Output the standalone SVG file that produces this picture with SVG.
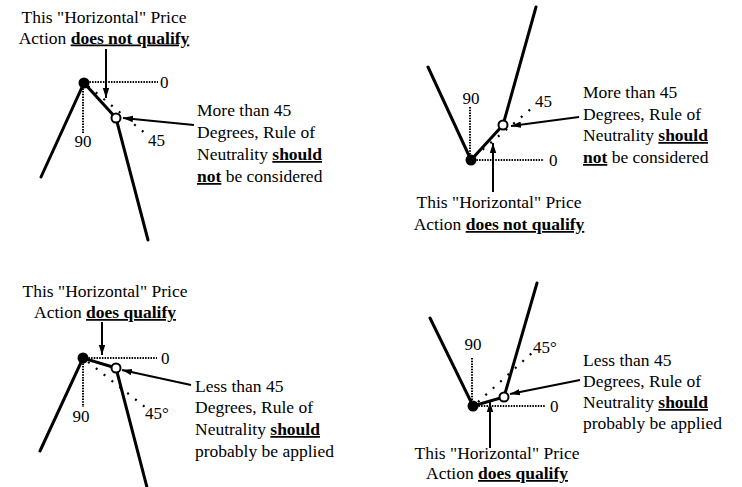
<svg xmlns="http://www.w3.org/2000/svg" width="742" height="487" viewBox="0 0 742 487">
<defs>
<marker id="ah" markerUnits="userSpaceOnUse" markerWidth="11" markerHeight="8" refX="10" refY="4" orient="auto">
<path d="M0,0.8 L10,4 L0,7.2 z" fill="#000"/>
</marker>
</defs>
<style>
text{font-family:"Liberation Serif","Times New Roman",serif;font-size:17.5px;fill:#000}
.c{text-anchor:middle}
.n{font-size:17px}
.b{font-weight:bold;text-decoration:underline}
.leg{stroke:#000;stroke-width:3;fill:none;stroke-linecap:round}
.dz{stroke:#000;stroke-width:2;stroke-dasharray:1.5 1.2;fill:none}
.d45{stroke:#000;stroke-width:2.2;stroke-dasharray:2 8;fill:none}
.dot{fill:#000}
.ring{fill:#fff;stroke:#000;stroke-width:2}
.arr{stroke:#000;stroke-width:2;fill:none;marker-end:url(#ah)}
</style>
<rect width="742" height="487" fill="#fff"/>

<!-- Panel 1 -->
<g id="p1-chart">
<line class="dz" x1="84" y1="82" x2="158" y2="82"/>
<line class="dz" x1="83" y1="83" x2="83" y2="134"/>
<line class="d45" x1="88" y1="86" x2="146" y2="134"/>
<polyline class="leg" points="41,177 84,83 116,118 148,240"/>
<circle class="dot" cx="84" cy="83" r="5.5"/>
<circle class="ring" cx="116" cy="118" r="4.5"/>
<text class="n" x="160" y="88">0</text>
<text class="n c" x="83" y="147">90</text>
<text class="n" x="148" y="146">45</text>
</g>
<g id="p1-top-label">
<text class="c" x="104" y="22.5">This "Horizontal" Price</text>
<text class="c" x="104" y="43.5">Action <tspan class="b">does not qualify</tspan></text>
</g>
<g id="p1-right-label">
<text x="197" y="116">More than 45</text>
<text x="197" y="138">Degrees, Rule of</text>
<text x="197" y="160">Neutrality <tspan class="b">should </tspan></text>
<text x="197" y="182"><tspan class="b">not</tspan> be considered</text>
</g>

<!-- Panel 2 -->
<g id="p2-chart">
<line class="dz" x1="471" y1="160" x2="544" y2="160"/>
<line class="dz" x1="470" y1="107" x2="470" y2="160"/>
<line class="d45" x1="475" y1="156" x2="532" y2="108"/>
<polyline class="leg" points="428,67 471,160 503,125 536,7"/>
<circle class="dot" cx="471" cy="160" r="5.5"/>
<circle class="ring" cx="503" cy="125" r="4.5"/>
<text class="n" x="549" y="166">0</text>
<text class="n c" x="471" y="104">90</text>
<text class="n" x="535" y="107">45</text>
</g>
<g id="p2-bottom-label">
<text class="c" x="499" y="208">This "Horizontal" Price</text>
<text class="c" x="499" y="230">Action <tspan class="b">does not qualify</tspan></text>
</g>
<g id="p2-right-label">
<text x="583" y="98">More than 45</text>
<text x="583" y="120">Degrees, Rule of</text>
<text x="583" y="141">Neutrality <tspan class="b">should </tspan></text>
<text x="583" y="163"><tspan class="b">not</tspan> be considered</text>
</g>

<!-- Panel 3 -->
<g id="p3-chart">
<line class="dz" x1="83" y1="358" x2="157" y2="358"/>
<line class="dz" x1="83" y1="358" x2="83" y2="407"/>
<line class="d45" x1="88" y1="362" x2="145" y2="407"/>
<polyline class="leg" points="40,451 83,358 116,368 149,495"/>
<circle class="dot" cx="83" cy="358" r="5.5"/>
<circle class="ring" cx="116" cy="368" r="4.5"/>
<text class="n" x="161" y="364">0</text>
<text class="n c" x="81" y="422">90</text>
<text class="n" x="145" y="419">45°</text>
</g>
<g id="p3-top-label">
<text class="c" x="105" y="297">This "Horizontal" Price</text>
<text class="c" x="105" y="318">Action <tspan class="b">does qualify</tspan></text>
</g>
<g id="p3-right-label">
<text x="195" y="392">Less than 45</text>
<text x="195" y="413">Degrees, Rule of</text>
<text x="195" y="435">Neutrality <tspan class="b">should</tspan></text>
<text x="195" y="457">probably be applied</text>
</g>

<!-- Panel 4 -->
<g id="p4-chart">
<line class="dz" x1="473" y1="406" x2="545" y2="406"/>
<line class="dz" x1="472" y1="358" x2="472" y2="406"/>
<line class="d45" x1="478" y1="402" x2="533" y2="352"/>
<polyline class="leg" points="430,318 473,406 504,397 537,283"/>
<circle class="dot" cx="473" cy="406" r="5.5"/>
<circle class="ring" cx="504" cy="397" r="4.5"/>
<text class="n" x="550" y="412">0</text>
<text class="n c" x="473" y="350">90</text>
<text class="n" x="533" y="353">45°</text>
</g>
<g id="p4-bottom-label">
<text class="c" x="497" y="459">This "Horizontal" Price</text>
<text class="c" x="497" y="479">Action <tspan class="b">does qualify</tspan></text>
</g>
<g id="p4-right-label">
<text x="583" y="366">Less than 45</text>
<text x="583" y="387">Degrees, Rule of</text>
<text x="583" y="408">Neutrality <tspan class="b">should</tspan></text>
<text x="583" y="429">probably be applied</text>
</g>

<g id="connectors">
<line class="arr" x1="106" y1="49" x2="106" y2="98"/>
<line class="arr" x1="194" y1="125" x2="123" y2="118"/>
<line class="arr" x1="493" y1="192" x2="493" y2="143"/>
<line class="arr" x1="579" y1="117" x2="511" y2="126"/>
<line class="arr" x1="102" y1="322" x2="102" y2="355"/>
<line class="arr" x1="191" y1="385" x2="122" y2="370"/>
<line class="arr" x1="490" y1="448" x2="490" y2="402"/>
<line class="arr" x1="580" y1="380" x2="510" y2="394"/>
</g>
</svg>
